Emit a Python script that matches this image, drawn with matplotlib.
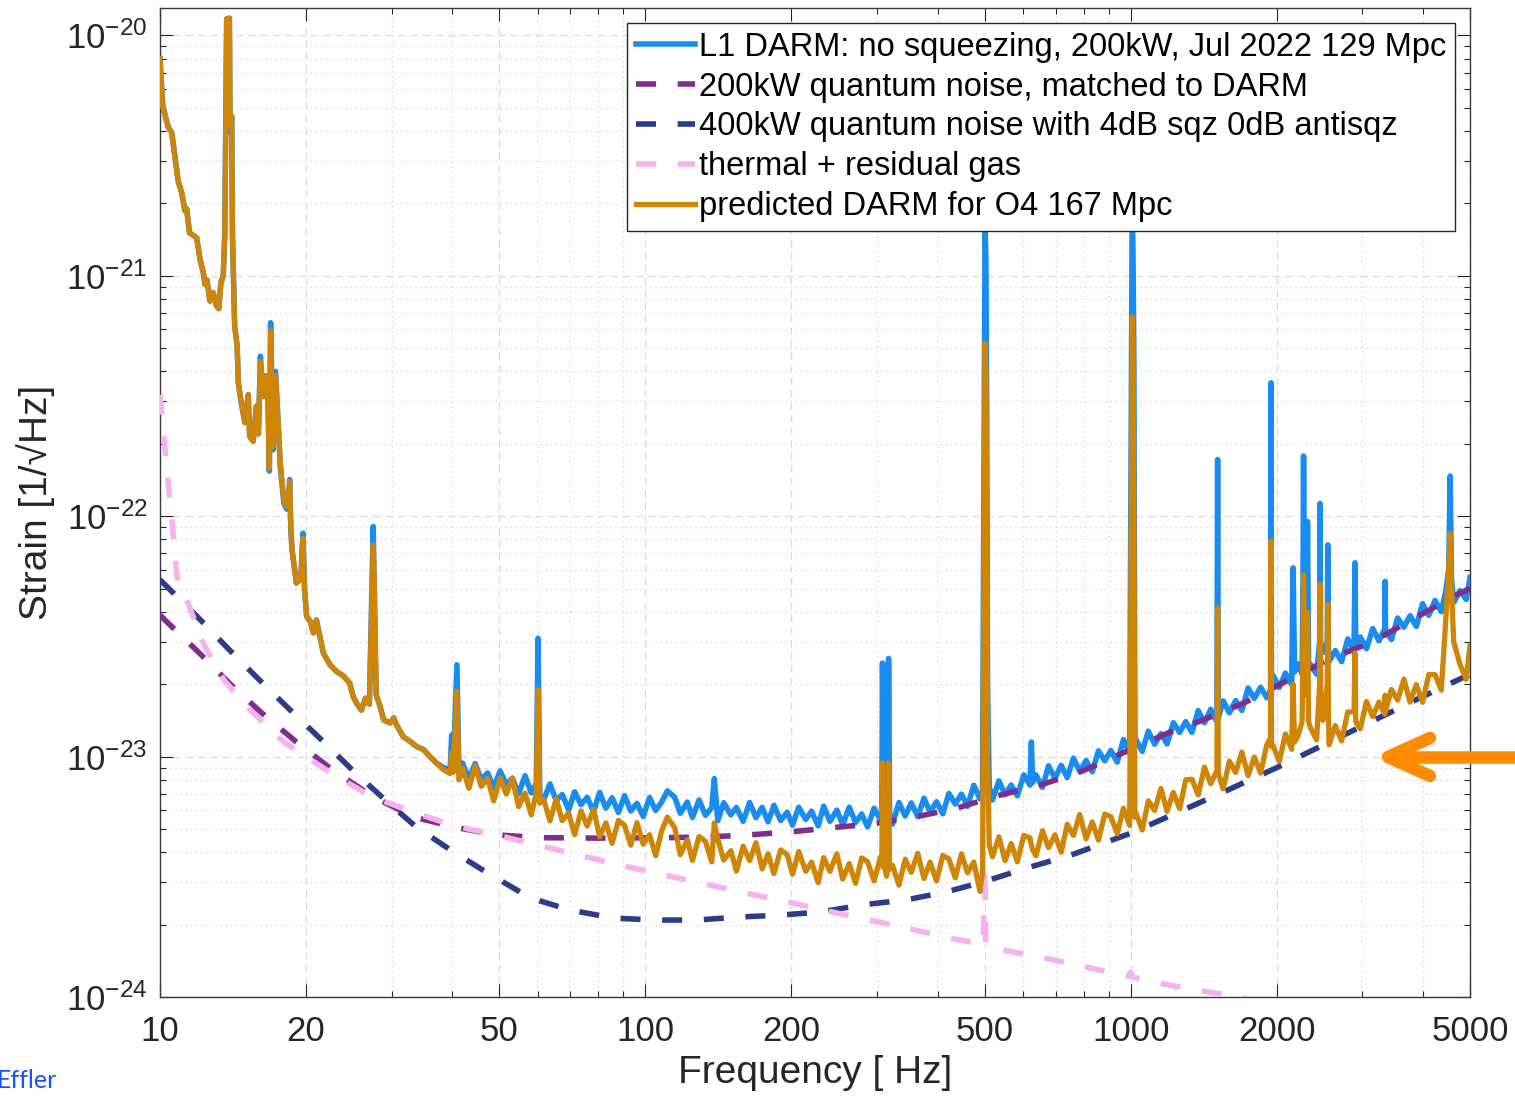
import numpy as np
import matplotlib
matplotlib.use("Agg")
import matplotlib.pyplot as plt
from matplotlib.lines import Line2D
from matplotlib.ticker import FixedLocator, FixedFormatter, NullFormatter

plt.rcParams['font.family'] = ['Liberation Sans', 'DejaVu Sans']
plt.rcParams['mathtext.fontset'] = 'custom'
plt.rcParams['mathtext.rm'] = 'Liberation Sans'
plt.rcParams['mathtext.it'] = 'Liberation Sans:italic'
plt.rcParams['mathtext.bf'] = 'Liberation Sans:bold'

# ---------------- data (strain values in units of 1e-24 /sqrt(Hz)) ----------------
# low-frequency part, L1 DARM (blue) and predicted O4 DARM (orange)
lf_f = [10.0, 10.13, 10.4, 10.57, 10.73, 10.9, 11.08, 11.26, 11.35, 11.5, 11.9, 12.09, 12.28, 12.38,
        12.5, 12.67, 12.87, 13.07, 13.22, 13.35, 13.5, 13.6, 13.72, 13.9, 13.94, 14.05, 14.1, 14.25,
        14.42, 14.5, 14.7, 14.96, 15.2, 15.3, 15.56, 15.8, 15.95, 16.1, 16.3, 16.45, 16.65, 16.8, 16.9,
        17.1, 17.3, 17.7, 18.0, 18.25, 18.4, 18.5, 18.6, 18.7, 19.1, 19.5, 19.7, 19.85, 20.05, 20.4,
        20.7, 21.0, 21.35, 21.7, 22.4, 23.1, 23.9, 24.6, 25.0, 25.4, 26.0, 26.5, 27.0, 27.5, 27.7, 27.9,
        28.4, 28.9, 29.8, 30.3, 30.8, 31.2, 31.7, 32.7, 33.8, 34.9, 36.0, 37.1, 38.4, 39.6, 39.9, 40.2,
        40.9, 41.3]
lf_blue = [8000, 5080, 4140, 3950, 3150, 2480, 2220, 1860, 1900, 1510, 1440, 1170, 1030, 920,
           960, 785, 850, 750, 730, 935, 1000, 1500, 11700, 11800, 3950, 4600, 1500, 620,
           510, 359, 297, 245, 320, 215, 205, 287, 220, 463, 315, 383, 383, 154, 638,
           189, 400, 160, 113, 107, 120, 142, 88, 73, 52.7, 55, 85, 50, 38.3, 36.5,
           32.7, 37, 31.5, 27, 24.1, 22.6, 21.6, 20.2, 17.8, 16.7, 15.6, 17.5, 16.5, 90.6, 31.5, 18,
           16.2, 14.2, 13.8, 14.5, 13.4, 12.8, 12.1, 11.6, 11.0, 10.7, 10.0, 9.4, 9.0, 8.8, 12.3, 9.0,
           24.1, 8.5]
lf_orange = [8000, 5080, 4140, 3950, 3150, 2480, 2220, 1860, 1900, 1510, 1440, 1170, 1030, 920,
             960, 785, 850, 750, 730, 935, 1000, 1500, 11700, 11800, 4200, 4600, 1500, 620,
             510, 359, 297, 245, 320, 215, 205, 287, 220, 440, 315, 383, 383, 158, 590,
             195, 385, 165, 116, 110, 118, 139, 90, 73, 52.7, 55, 81, 50, 38.3, 36.5,
             32.7, 37, 31.5, 27, 24.1, 22.6, 21.6, 20.2, 17.8, 16.7, 15.6, 17.5, 16.5, 76, 45, 18,
             16.2, 14.2, 13.8, 14.5, 13.4, 12.8, 12.1, 11.6, 11.0, 10.7, 10.0, 9.4, 8.8, 8.5, 10.4, 8.6,
             18.7, 8.0]

# mid/high-frequency part
hf_f = [42, 43.3, 44.6, 45.9, 47.3, 48.7, 50.2, 51.7, 53.2, 54.8, 56.5, 58.2, 59.6, 60.1, 60.6,
        61.7, 63.6, 65.5, 67.4, 69.5, 71.5, 73.7, 75.9, 78.2, 80.5, 82.9, 85.4, 88, 90.6, 93.3,
        96.1, 99, 102, 105, 108, 111, 115, 118, 122, 125, 129, 133, 137, 138.7, 141, 145, 150,
        154, 159, 164, 169, 174, 179, 184, 190, 196, 201, 207, 214, 220, 227, 233, 240, 248, 255,
        263, 271, 279, 287, 296, 305, 307, 308, 309.5, 314, 316, 317, 318.5, 323, 333, 343, 353,
        364, 375, 386, 398, 410, 422, 435, 448, 461, 475, 489, 495, 499, 501, 503, 505, 507, 511,
        519, 535, 551, 567, 584, 602, 620, 624, 628, 638, 658, 677, 698, 719, 740, 762, 785, 809,
        833, 858, 884, 910, 938, 966, 995, 1003, 1007, 1011, 1015, 1020, 1025, 1056, 1087, 1120,
        1154, 1188, 1224, 1261, 1298, 1337, 1377, 1419, 1461, 1505, 1510, 1515, 1550, 1597, 1645,
        1694, 1745, 1797, 1851, 1907, 1941, 1945, 1950, 1964, 2023, 2083, 2146, 2160, 2175, 2210,
        2255, 2265, 2270, 2280, 2300, 2313, 2325, 2345, 2415, 2450, 2455, 2462, 2488, 2540, 2547,
        2555, 2562, 2639, 2719, 2800, 2884, 2898, 2908, 2971, 3060, 3152, 3246, 3336, 3343, 3350,
        3444, 3547, 3654, 3763, 3876, 3992, 4112, 4236, 4363, 4450, 4520, 4550, 4580, 4628, 4767,
        4910, 5000]
hf_blue = [9.4, 8.1, 9.35, 8.0, 8.55, 7.42, 8.72, 7.66, 8.14, 6.99, 8.33, 7.06, 7.7, 31.1, 6.9,
           6.6, 7.7, 6.56, 6.95, 6.01, 7.14, 6.31, 6.77, 5.89, 7.1, 6.1, 6.74, 5.86, 6.88, 5.94,
           6.39, 5.64, 6.76, 5.97, 6.46, 7.2, 6.77, 5.81, 6.47, 5.58, 6.6, 5.7, 6.13, 8.1, 5.41, 6.43, 5.72,
           6.14, 5.38, 6.44, 5.57, 6.15, 5.35, 6.27, 5.42, 5.87, 5.19, 6.16, 5.48, 5.93, 5.15, 6.22, 5.38, 5.99, 5.21,
           6.16, 5.32, 5.77, 5.1, 6.1, 5.45, 5.6, 24.5, 5.7, 5.93, 5.7, 25.6, 5.8, 5.24, 6.44, 5.66, 6.42,
           5.63, 6.71, 5.89, 6.49, 5.78, 7.03, 6.35, 6.98, 6.21, 7.6, 6.67, 7.0, 300, 1520, 1200, 250, 20, 7.49,
           6.6, 7.92, 6.94, 7.62, 6.87, 8.39, 7.61, 11.5, 7.8, 8.4, 7.45, 9.16, 8.11, 9.2, 8.18, 9.85, 8.69, 9.63,
           8.65, 10.57, 9.6, 10.6, 9.48, 11.77, 10.37, 400, 2000, 1200, 437, 11.5, 11.77, 10.51, 12.76, 11.26,
           12.46, 11.28, 13.84, 12.61, 13.97, 12.6, 15.54, 13.82, 15.73, 13.95, 172, 14.5, 17.05, 15.2, 17.1,
           15.56, 19.29, 17.46, 19.43, 17.57, 19, 359, 19.5, 21.76, 19.39, 22.26, 19.9, 61, 22.5, 24.31,
           22, 60, 178, 40, 30, 95, 24, 24.21, 22.02, 30, 113, 28, 27.14, 30, 76,
           26, 24.83, 27.62, 24.84, 30.86, 27.46, 64, 29, 31.46, 28.09, 34.1, 30.3, 34, 53.6, 33,
           30.67, 37.71, 34.53, 38.54, 34.78, 43.29, 38.69, 44.62, 40.08, 48, 60, 147, 55, 43.7, 49.03,
           45.05, 55.6]
hf_orange = [8.96, 7.38, 9.15, 7.52, 8.11, 6.54, 8.14, 6.98, 8.12, 6.19, 7.05, 5.72, 7.06, 19.0, 6.4,
             6.64, 5.4, 6.67, 5.41, 5.82, 4.73, 5.94, 5.14, 6.03, 4.64, 5.3, 4.36, 5.43, 5.18, 4.28,
             5.31, 4.32, 4.73, 3.87, 4.9, 5.6, 5.05, 3.91, 4.51, 3.7, 4.65, 4.43, 3.65, 5.3, 4.52, 3.71, 4.06,
             3.34, 4.24, 3.69, 4.38, 3.41, 3.94, 3.26, 4.09, 3.91, 3.24, 4.03, 3.33, 3.64, 2.99, 3.8, 3.33, 3.94, 3.09,
             3.59, 2.97, 3.79, 3.65, 3.04, 3.82, 3.5, 9.4, 3.6, 3.18, 3.5, 9.4, 3.4, 3.53, 2.92, 3.74, 3.3,
             3.96, 3.11, 3.64, 3.04, 3.88, 3.75, 3.13, 3.94, 3.29, 3.64, 2.75, 3.3, 93, 525, 400, 93, 10, 4.29,
             3.83, 4.64, 3.69, 4.35, 3.65, 4.7, 4.59, 4.3, 4.1, 3.87, 4.92, 4.18, 4.73, 4.0, 5.23, 4.7, 5.74, 4.55,
             5.35, 4.49, 5.77, 5.62, 4.77, 6.1, 5.17, 100, 674, 500, 100, 5.6, 5.82, 4.95, 6.55, 5.97,
             7.37, 5.92, 7.1, 6.07, 8.01, 8.05, 6.93, 9.04, 7.71, 8.74, 41.5, 8.5, 7.35, 9.57, 8.58,
             10.44, 8.33, 9.96, 8.54, 11.2, 12, 78.7, 11, 11.12, 9.54, 12.43, 10.72, 20, 11.5, 12.17,
             14, 30, 57, 25, 18, 40, 14, 13.2, 11.74, 20, 52, 18, 14.15, 20, 43,
             15, 11.19, 13.46, 11.62, 15.34, 15.34, 27, 14, 13.05, 16.95, 14.66, 16.85, 15, 18, 15.5,
             19.03, 17.17, 21.0, 16.84, 19.93, 16.81, 21.95, 21.92, 18.9, 35, 60, 85, 50, 30, 24.23,
             20.98, 29]

# 200 kW quantum noise matched to DARM
qn200_f = [10, 10.38, 12.09, 14.0, 16.2, 19.0, 22.5, 27.5, 33.4, 40.9, 49.7, 60.7, 80, 109.8, 134,
           162.6, 198.6, 242, 294, 359, 438, 531, 650, 794, 1000, 1200, 1411, 1720, 2063, 2547,
           3122, 3834, 4700, 5000]
qn200_v = [38.8, 36, 26.8, 19.9, 15.2, 11.6, 8.9, 6.8, 5.6, 5.06, 4.72, 4.6, 4.58, 4.6, 4.63,
           4.72, 4.86, 5.06, 5.25, 5.6, 6.1, 6.87, 7.6, 8.7, 10.7, 12.6, 14.2, 16.8, 20.3, 25.3,
           29.8, 37.5, 47.2, 50]

# 400 kW quantum noise with 4 dB squeezing
qn400_f = [10, 12.09, 13.87, 16.0, 18.5, 21.46, 24.9, 28.8, 33.7, 39.6, 46.5, 58, 70, 85.9, 104.5,
           127.5, 155, 189, 231, 281, 343, 418, 496, 620, 755, 1000, 1500, 2000, 3000, 4000, 5000]
qn400_v = [54.4, 37.2, 27.9, 20.9, 15.7, 11.8, 8.8, 6.73, 5.1, 4.1, 3.35, 2.58, 2.3, 2.13, 2.09,
           2.09, 2.15, 2.19, 2.26, 2.42, 2.53, 2.74, 3.01, 3.47, 3.9, 4.8, 6.9, 9.0, 13.4, 17.8, 22.0]

# thermal + residual gas
therm_f = [10, 10.29, 10.6, 10.84, 11.5, 12.3, 13.55, 15.4, 18.0, 22.2, 27.1, 33, 40.4, 49.3, 59.6,
           88, 107, 131, 159, 194, 237, 290, 351, 428, 497, 499.5, 500.5, 503, 546, 667, 813, 990,
           1000, 1010, 1200, 1400, 1680, 1800]
therm_v = [320, 171, 93, 56, 42, 29.3, 20.8, 15.5, 11.5, 8.7, 6.86, 5.9, 5.15, 4.72, 4.3,
           3.55, 3.25, 2.97, 2.72, 2.5, 2.28, 2.09, 1.92, 1.75, 1.66, 3.5, 3.5, 1.64, 1.57, 1.45, 1.33, 1.22,
           1.27, 1.21, 1.12, 1.06, 1.0, 0.97]

labels = ["L1 DARM: no squeezing, 200kW, Jul 2022 129 Mpc",
          "200kW quantum noise, matched to DARM",
          "400kW quantum noise with 4dB sqz 0dB antisqz",
          "thermal + residual gas",
          "predicted DARM for O4 167 Mpc"]

x_major = [10, 20, 50, 100, 200, 500, 1000, 2000, 5000]
x_major_labels = ["10", "20", "50", "100", "200", "500", "1000", "2000", "5000"]
x_minor = [30, 40, 60, 70, 80, 90, 300, 400, 600, 700, 800, 900, 3000, 4000]
y_exponents = [-24, -23, -22, -21, -20]

UNIT = 1e-24

# ---------------- styling ----------------
C_BLUE = '#1b8cef'
C_PURPLE = '#7e2f8e'
C_DBLUE = '#2b3d88'
C_PINK = '#f6b2ef'
C_ORANGE = '#cf8505'
C_TXT = '#262626'

W, H = 1515, 1098
fig = plt.figure(figsize=(W / 100, H / 100), dpi=100)
ax = fig.add_axes([160 / W, 1 - 997 / H, (1470 - 160) / W, (997 - 8) / H])
ax.set_xscale('log')
ax.set_yscale('log')

blue_f = lf_f + hf_f
blue_v = np.array(lf_blue + hf_blue) * UNIT
orange_f = lf_f + hf_f
orange_v = np.array(lf_orange + hf_orange) * UNIT

dash = (3.6, 3.9)
ax.plot(blue_f, blue_v, color=C_BLUE, lw=4.0, solid_joinstyle='round', label=labels[0], zorder=3)
ax.plot(qn200_f, np.array(qn200_v) * UNIT, color=C_PURPLE, lw=4.0, dashes=dash,
        dash_capstyle='butt', label=labels[1], zorder=4)
ax.plot(qn400_f, np.array(qn400_v) * UNIT, color=C_DBLUE, lw=4.0, dashes=dash,
        dash_capstyle='butt', label=labels[2], zorder=4)
ax.plot(therm_f, np.array(therm_v) * UNIT, color=C_PINK, lw=4.0, dashes=dash,
        dash_capstyle='butt', label=labels[3], zorder=4)
ax.plot(orange_f, orange_v, color=C_ORANGE, lw=3.8, solid_joinstyle='round', label=labels[4], zorder=5)

ax.set_xlim(10, 5000)
ax.set_ylim(1e-24, 1.3e-20)

ax.xaxis.set_major_locator(FixedLocator(x_major))
ax.xaxis.set_major_formatter(FixedFormatter(x_major_labels))
ax.xaxis.set_minor_locator(FixedLocator(x_minor))
ax.xaxis.set_minor_formatter(NullFormatter())

y_major = [10.0 ** e for e in y_exponents]
y_labels = [r'$\mathregular{10^{%d}}$' % e for e in y_exponents]
y_minor = [m * 10.0 ** e for e in y_exponents[:-1] for m in range(2, 10)]
ax.yaxis.set_major_locator(FixedLocator(y_major))
ax.yaxis.set_major_formatter(FixedFormatter(y_labels))
ax.yaxis.set_minor_locator(FixedLocator(y_minor))
ax.yaxis.set_minor_formatter(NullFormatter())

ax.tick_params(which='major', direction='in', length=9.5, width=0.8, top=True, right=True,
               labelsize=25, colors=C_TXT)
ax.tick_params(which='minor', direction='in', length=4.5, width=0.8, top=True, right=True, colors=C_TXT)
ax.tick_params(axis='x', which='major', pad=13)
ax.tick_params(axis='y', which='major', pad=9)

ax.grid(True, which='major', linestyle=(0, (6, 4)), color='#dcdcdc', lw=0.9, zorder=0)
ax.grid(True, which='minor', linestyle=(0, (1, 3)), color='#d2d2d2', lw=0.9, zorder=0)
ax.set_axisbelow(True)
for s in ax.spines.values():
    s.set_color('#3a3a3a')
    s.set_linewidth(1.0)

ax.set_xlabel('Frequency [ Hz]', fontsize=28, color=C_TXT, labelpad=5)
ax.set_ylabel('Strain [1/\u221aHz]', fontsize=28, color=C_TXT, labelpad=8)

leg = ax.legend(loc='upper right', fontsize=23.5, frameon=True, fancybox=False, framealpha=1,
                edgecolor='#262626', borderpad=0.28, labelspacing=0.27, handlelength=1.8,
                handletextpad=0.12, borderaxespad=0.45)
leg.get_frame().set_linewidth(1.0)
leg.set_zorder(10)

# orange arrow on the right margin
def fx(px):
    return px / W

def fy(py):
    return 1 - py / H

arrow_kw = dict(color='#ff8c00', lw=9, solid_capstyle='round', solid_joinstyle='round',
                transform=fig.transFigure, clip_on=False)
fig.add_artist(Line2D([fx(1390), fx(1530)], [fy(757), fy(757)], **arrow_kw))
fig.add_artist(Line2D([fx(1430), fx(1388), fx(1430)], [fy(738), fy(757), fy(776)], **arrow_kw))

fig.text(fx(-3), fy(1080), 'Effler', color='#1a4fff', fontsize=18, ha='left', va='center',
         family=['Lato', 'DejaVu Sans'])

fig.savefig('out.png', dpi=100)
